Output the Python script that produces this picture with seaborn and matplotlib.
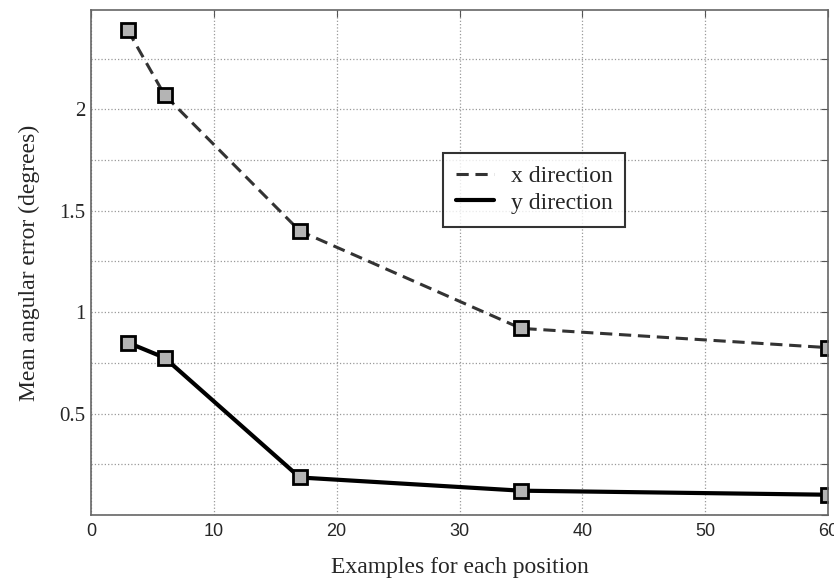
import numpy as np
import pandas as pd
import matplotlib
matplotlib.use('Agg')
import matplotlib.pyplot as plt
import seaborn as sns

# values
examples = [3, 6, 17, 35, 60]
err_x = [2.39, 2.07, 1.40, 0.92, 0.825]
err_y = [0.85, 0.775, 0.185, 0.12, 0.10]
xticks = [0, 10, 20, 30, 40, 50, 60]
yticks = [0, 0.25, 0.5, 0.75, 1, 1.25, 1.5, 1.75, 2, 2.25]
ylabels = ['', '', '0.5', '', '1', '', '1.5', '', '2', '']

sns.set_style('white')
plt.rcParams['font.family'] = ['Liberation Serif', 'DejaVu Serif']

fig = plt.figure(figsize=(8.34, 5.79), dpi=100)
ax = fig.add_axes([0.109, 0.1105, 0.884, 0.8725])

sns.lineplot(x=examples, y=err_x, ax=ax, color='#333333', lw=2.2, linestyle=(0, (4, 2.2)),
             marker='s', markersize=9.5, markerfacecolor='#b4b4b4', markeredgecolor='black',
             markeredgewidth=2, label='x direction')
sns.lineplot(x=examples, y=err_y, ax=ax, color='black', lw=3,
             marker='s', markersize=9.5, markerfacecolor='#b4b4b4', markeredgecolor='black',
             markeredgewidth=2, label='y direction')

ax.set_xlim(0, 60)
ax.set_ylim(0, 2.49)
ax.set_xticks(xticks)
ax.set_xticklabels([str(t) for t in xticks], family='Liberation Sans', fontsize=13)
ax.set_yticks(yticks)
ax.set_yticklabels(ylabels, fontsize=15)
ax.grid(True, linestyle=':', color='#999999', lw=0.9)
ax.tick_params(direction='in', length=5, top=True, right=True, color='#555555')
ax.tick_params(axis='y', pad=4)
ax.tick_params(axis='x', pad=6)
for s in ax.spines.values():
    s.set_color('#666666')
    s.set_linewidth(1.2)

ax.set_xlabel('Examples for each position', fontsize=17, labelpad=12)
ax.set_ylabel('Mean angular error (degrees)', fontsize=17, labelpad=14)

leg = ax.legend(loc='upper left', bbox_to_anchor=(0.478, 0.717), fontsize=17,
                handlelength=1.6, frameon=True, fancybox=False, borderpad=0.55,
                labelspacing=0.2, handletextpad=0.7, borderaxespad=0)
leg.get_frame().set_edgecolor('black')
leg.get_frame().set_linewidth(1.5)
for h in leg.get_lines():
    h.set_marker('')

fig.savefig('out.png', dpi=100)
